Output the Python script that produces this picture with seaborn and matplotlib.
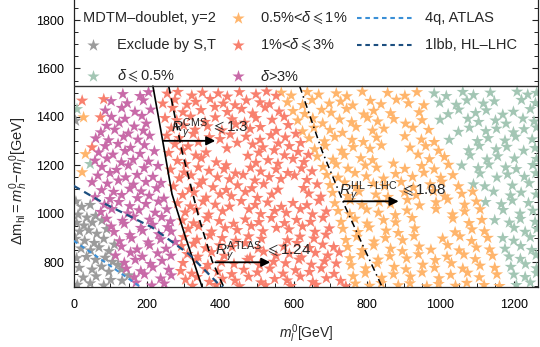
import matplotlib
matplotlib.use("Agg")
import numpy as np
import pandas as pd
import seaborn as sns
import matplotlib.pyplot as plt
from matplotlib.ticker import MultipleLocator

# ---------------- data ----------------
cat_names = ["Exclude by S,T", r"$\delta{\leqslant}$0.5%", r"0.5%<$\delta{\leqslant}$1%",
             r"1%<$\delta{\leqslant}$3%", r"$\delta$>3%"]
cat_colors = ["#9b9b9b", "#a3c6b4", "#ffb56c", "#f8806e", "#c86aa8"]

gray_pts = [(5,1384),(6,1050),(22,1028),(45,1036),(12,996),(36,984),(60,991),(8,962),(28,951),(51,963),
            (77,972),(16,926),(41,931),(63,917),(90,936),(5,896),(30,888),(56,879),(82,896),(20,856),
            (46,848),(69,861),(96,845),(111,872),(8,816),(35,821),(60,809),(86,818),(106,801),(121,789),
            (15,776),(50,769),(76,781),(96,760),(130,770),(26,736),(61,741),(101,726),(132,723),(150,745),
            (10,706),(45,712),(82,703)]

green_pts = [(9,1432),(45,1205),
    (983,1497),(1016,1486),(1061,1503),(1090,1490),(1136,1500),(1209,1504),(1238,1492),(1262,1499),
    (998,1459),(1043,1450),(1072,1468),(1117,1455),(1147,1464),(1221,1470),(1259,1457),
    (1021,1411),(1050,1430),(1096,1416),(1125,1427),(1170,1409),(1199,1421),(1245,1432),
    (999,1388),(1075,1392),(1104,1379),(1150,1385),(1179,1372),(1225,1393),(1255,1381),
    (1049,1338),(1079,1355),(1124,1341),(1153,1351),(1199,1336),(1228,1349),(1262,1356),
    (1024,1305),(1101,1300),(1130,1312),(1176,1302),(1205,1318),(1250,1307),
    (1077,1262),(1106,1280),(1152,1266),(1181,1276),(1227,1260),(1258,1271),
    (1081,1241),(1127,1224),(1156,1237),(1202,1228),(1262,1226),
    (1058,1199),(1103,1188),(1132,1203),(1178,1191),(1207,1184),(1252,1201),
    (1108,1166),(1154,1149),(1183,1162),(1229,1152),(1260,1167),
    (1090,1121),(1121,1113),(1196,1116),(1242,1126),
    (1145,1091),(1191,1075),(1220,1087),(1261,1079),
    (1123,1048),(1166,1039),(1196,1054),(1240,1044),
    (1171,1015),(1217,1000),(1252,1012),
    (1148,973),(1188,963),(1218,978),(1258,966),
    (1201,941),(1231,925),(1263,937),
    (1170,899),(1200,888),(1245,903),
    (1176,855),(1219,866),(1249,850),
    (1187,823),(1218,813),(1261,829),
    (1192,780),(1232,791),(1262,774),
    (1200,748),(1231,738),(1262,754),
    (1207,705),(1245,715)]

orange_pts = [(27,1398),(32,1246),(23,1171),
    (566,1500),(593,1488),(637,1503),(668,1492),(716,1497),(745,1485),(787,1504),(856,1499),(903,1487),(936,1502),
    (583,1460),(624,1449),(650,1470),(697,1455),(728,1463),(761,1447),(809,1466),(838,1452),(880,1471),(913,1456),(955,1448),
    (598,1424),(630,1412),(676,1429),(702,1417),(744,1433),(791,1410),(818,1425),(864,1415),(942,1419),
    (611,1385),(652,1394),(679,1373),(725,1389),(758,1378),(801,1396),(829,1381),(873,1391),(905,1372),(950,1386),
    (624,1340),(655,1355),(699,1346),(733,1334),(770,1358),(815,1343),(846,1351),(925,1355),(968,1346),
    (642,1311),(684,1299),(712,1317),(759,1305),(790,1296),(826,1314),(903,1320),(948,1306),(983,1296),
    (657,1266),(686,1280),(731,1260),(762,1275),(808,1268),(839,1282),(917,1273),(960,1279),(995,1260),
    (664,1236),(707,1223),(738,1242),(783,1229),(815,1221),(939,1244),(970,1225),(1011,1234),
    (680,1193),(716,1204),(748,1186),(795,1199),(826,1190),(872,1207),(903,1185),(949,1197),(983,1183),(1022,1202),
    (690,1160),(721,1149),(767,1168),(798,1154),(845,1145),(878,1164),(924,1152),(955,1169),(1001,1148),(1034,1159),
    (699,1118),(739,1129),(770,1110),(817,1124),(848,1114),(893,1131),(926,1108),(972,1121),(1004,1132),(1049,1113),
    (706,1086),(747,1073),(778,1091),(824,1079),(857,1069),(902,1088),(934,1076),(981,1093),(1012,1071),(1058,1082),(1088,1091),
    (712,1043),(754,1056),(786,1036),(833,1049),(864,1040),(910,1057),(943,1034),(988,1047),(1020,1058),(1066,1037),(1098,1050),
    (721,1011),(753,998),(799,1017),(831,1004),(877,994),(909,1013),(988,1019),(1033,997),(1066,1009),(1108,1018),
    (729,966),(767,979),(800,959),(845,973),(878,964),(923,982),(1034,980),(1078,961),(1113,974),
    (734,937),(775,924),(806,943),(852,930),(885,920),(930,939),(1040,923),(1086,935),(1120,927),
    (742,891),(772,904),(819,885),(850,899),(897,890),(928,907),(1006,897),(1053,906),(1085,887),(1129,900),
    (747,862),(787,849),(818,868),(864,855),(896,845),(942,864),(974,851),(1020,870),(1051,848),(1098,860),(1134,852),
    (753,816),(785,829),(830,810),(862,824),(908,815),(940,832),(986,808),(1018,822),(1064,831),(1095,812),(1142,826),
    (756,787),(796,774),(828,793),(874,780),(906,770),(952,789),(984,776),(1030,795),(1061,773),(1108,785),(1148,776),
    (762,741),(795,754),(840,735),(872,749),(918,740),(950,757),(996,733),(1028,747),(1074,756),(1106,737),(1154,749),
    (768,711),(807,702),(839,713),(885,704),(917,712),(963,700),(995,709),(1041,702),(1072,714),(1119,705),(1161,701)]

red_pts = [(23,1467),(82,1473),(73,1398),(50,1274),
    (255,1496),(284,1503),(322,1488),(351,1500),(394,1497),(419,1484),(452,1502),(497,1493),(526,1505),(552,1487),
    (243,1455),(276,1471),(309,1450),(333,1462),(372,1474),(408,1455),(440,1448),(471,1468),(508,1460),(534,1452),
    (270,1437),(298,1419),(347,1428),(385,1441),(419,1420),(458,1433),(488,1414),(522,1438),(560,1422),
    (249,1395),(281,1386),(319,1401),(358,1379),(386,1398),(432,1390),(466,1376),(497,1395),(541,1388),(574,1400),
    (266,1352),(300,1365),(331,1347),(365,1361),(404,1344),(442,1369),(481,1350),(509,1358),(552,1342),(585,1366),
    (254,1322),(288,1312),(326,1330),(370,1316),(399,1308),(427,1327),(470,1318),(508,1305),(538,1324),(577,1315),(606,1330),
    (276,1287),(312,1278),(340,1296),(418,1270),(446,1293),(488,1286),(516,1274),(558,1290),(588,1279),(619,1292),
    (259,1251),(297,1262),(333,1240),(361,1253),(475,1239),(505,1252),(547,1262),(575,1241),(612,1255),(640,1243),
    (283,1218),(305,1205),(348,1229),(389,1212),(416,1200),(497,1210),(530,1221),(557,1206),(598,1226),(628,1213),
    (264,1182),(301,1170),(340,1191),(369,1177),(410,1184),(441,1166),(482,1190),(510,1174),(552,1183),(584,1168),(621,1187),(650,1175),
    (288,1146),(320,1158),(352,1137),(392,1150),(425,1142),(462,1160),(494,1137),(533,1151),(565,1143),(602,1158),(636,1139),
    (272,1112),(316,1100),(343,1121),(380,1109),(416,1098),(447,1117),(486,1105),(518,1122),(557,1099),(627,1106),(664,1121),
    (297,1077),(328,1088),(361,1066),(399,1080),(430,1072),(468,1090),(501,1065),(540,1079),(641,1083),(674,1070),
    (283,1043),(318,1030),(353,1050),(386,1037),(425,1029),(457,1052),(495,1036),(529,1046),(566,1028),(598,1044),(636,1035),(668,1053),
    (304,1005),(334,1017),(368,996),(406,1010),(478,1018),(510,998),(548,1011),(580,1003),(618,1019),(651,997),(689,1009),
    (296,972),(327,960),(363,981),(397,969),(436,958),(468,976),(505,965),(539,982),(575,961),(608,974),(646,966),(680,983),
    (312,937),(341,948),(376,926),(413,940),(446,932),(484,949),(516,927),(553,941),(587,935),(624,947),(658,925),(697,939),
    (300,903),(336,892),(371,910),(405,899),(442,888),(477,906),(512,896),(583,890),(617,905),(655,897),(688,913),
    (294,866),(327,876),(360,857),(398,869),(432,862),(468,878),(503,855),(573,864),(609,879),(643,858),(679,872),(709,862),
    (310,833),(339,822),(376,841),(411,826),(481,818),(518,843),(552,826),(588,834),(621,819),(659,838),(693,827),(724,840),
    (298,796),(333,807),(366,788),(403,800),(437,792),(473,809),(507,787),(545,801),(578,795),(614,810),(648,789),(684,803),(716,794),
    (292,763),(322,752),(359,771),(393,760),(431,750),(464,768),(501,757),(535,773),(571,752),(605,766),(643,759),(675,774),(710,751),
    (305,727),(336,738),(370,718),(406,731),(440,723),(477,739),(511,716),(548,730),(582,724),(618,740),(652,717),(689,733),(728,722),
    (324,702),(388,705),(452,700),(523,704),(592,701),(661,706),(742,700)]

purple_pts = [(134,1494),(181,1486),(204,1502),
    (102,1465),(146,1456),(190,1468),
    (86,1426),(131,1437),(167,1421),(210,1430),
    (103,1400),(140,1392),(186,1404),
    (90,1363),(124,1376),(165,1360),(198,1372),
    (74,1336),(112,1347),(149,1331),(190,1343),
    (60,1311),(95,1303),(136,1318),(175,1306),(207,1322),
    (86,1279),(121,1288),(155,1272),(193,1283),
    (68,1253),(107,1244),(140,1259),(181,1247),(220,1258),
    (58,1219),(91,1228),(130,1212),(162,1222),(204,1215),
    (77,1193),(117,1181),(149,1199),(192,1188),(230,1197),
    (66,1157),(99,1168),(142,1150),(173,1160),(216,1152),
    (50,1130),(92,1124),(122,1137),(163,1120),(197,1131),(238,1127),
    (76,1097),(109,1090),(153,1103),(184,1092),(226,1105),
    (58,1068),(99,1060),(131,1077),(174,1064),(206,1074),(246,1062),
    (84,1037),(123,1048),(153,1031),(197,1040),(231,1050),
    (74,1007),(104,1019),(148,1001),(178,1014),(222,1004),(254,1018),
    (90,979),(133,970),(163,987),(207,975),(240,986),(264,968),
    (102,947),(138,958),(183,941),(216,954),(256,944),
    (110,924),(153,911),(188,929),(232,915),(266,926),
    (125,886),(158,898),(203,881),(237,894),(277,883),
    (130,864),(173,852),(207,869),(252,855),
    (114,827),(155,839),(187,822),(229,836),(265,826),
    (138,797),(168,809),(209,792),(241,805),
    (144,773),(183,762),(216,778),(259,768),
    (165,737),(193,749),(237,732),(266,745),
    (170,715),(213,703),(247,711)]

# constraint curves (m_l^0, Delta m)
cms_x = [216, 241, 268, 305, 350]
cms_y = [1527, 1315, 1081, 902, 697]
atlas_x = [259, 295, 341, 377, 409]
atlas_y = [1527, 1260, 985, 806, 697]
hllhc_x = [616, 677, 741, 795, 841]
hllhc_y = [1527, 1260, 1026, 847, 697]
lbb_x = [0, 86, 214, 314, 395, 407]
lbb_y = [1115, 1040, 943, 833, 709, 697]
q4_x = [0, 86, 182]
q4_y = [888, 799, 697]
legend_edge_y = 1527

arrow_cms = ((245, 1301), (386, 1301))
arrow_atlas = ((386, 799), (536, 799))
arrow_hl = ((736, 1051), (886, 1051))

# ---------------- style ----------------
sns.set_theme(style="ticks")
plt.rcParams['font.family'] = ['Liberation Sans', 'DejaVu Sans']
plt.rcParams['mathtext.fontset'] = 'custom'
plt.rcParams['mathtext.rm'] = 'Liberation Sans'
plt.rcParams['mathtext.it'] = 'Liberation Sans:italic'
plt.rcParams['mathtext.bf'] = 'Liberation Sans:bold'
plt.rcParams['mathtext.fallback'] = 'stix'

STAR = 88

fig = plt.figure(figsize=(5.4, 3.47), dpi=100)
ax = fig.add_axes([0.1365, 0.173, 0.8598, 0.827])

frames = []
for name, pts in zip(cat_names, [gray_pts, green_pts, orange_pts, red_pts, purple_pts]):
    arr = np.array(pts, dtype=float)
    frames.append(pd.DataFrame({"ml": arr[:, 0], "dm": arr[:, 1], "cls": name}))
df = pd.concat(frames, ignore_index=True)

sns.scatterplot(data=df, x="ml", y="dm", hue="cls", hue_order=cat_names,
                palette=dict(zip(cat_names, cat_colors)), marker="*", s=STAR,
                linewidth=0, legend=False, ax=ax, zorder=2)

# curves
ax.plot(cms_x, cms_y, color="black", lw=1.2, zorder=3)
ax.plot(atlas_x, atlas_y, color="black", lw=1.2, dashes=(4.5, 3), zorder=3)
ax.plot(hllhc_x, hllhc_y, color="black", lw=1.1, dashes=(4.5, 2.5, 1, 2.5), zorder=3)
ax.plot(lbb_x, lbb_y, color="#1d4f80", lw=1.6, dashes=(3.2, 2.2), zorder=3)
ax.plot(q4_x, q4_y, color="#3a8fd6", lw=1.5, dashes=(2.2, 1.8), zorder=3)
ax.axhline(legend_edge_y, color="#333333", lw=1.0, zorder=4)

# arrows + labels
for (s, e) in (arrow_cms, arrow_atlas, arrow_hl):
    ax.annotate("", xy=e, xytext=s,
                arrowprops=dict(arrowstyle="-|>", color="black", lw=1.3,
                                mutation_scale=13, shrinkA=0, shrinkB=0), zorder=5)
ax.text(266, 1336, r"$R_{\gamma}^{\mathrm{CMS}}\;{\leqslant}\mathrm{1.3}$", fontsize=11, zorder=5)
ax.text(384, 828, r"$R_{\gamma}^{\mathrm{ATLAS}}\;{\leqslant}\mathrm{1.24}$", fontsize=11, zorder=5)
ax.text(723, 1076, r"$R_{\gamma}^{\mathrm{HL-LHC}}\;{\leqslant}\mathrm{1.08}$", fontsize=11, zorder=5)

# axes
ax.set_xlim(0, 1266)
ax.set_ylim(697, 1883)
ax.xaxis.set_major_locator(MultipleLocator(200))
ax.xaxis.set_minor_locator(MultipleLocator(50))
ax.yaxis.set_major_locator(MultipleLocator(200))
ax.yaxis.set_minor_locator(MultipleLocator(50))
ax.tick_params(which="both", direction="in", left=True, right=True, bottom=True, top=False,
               colors="#222222", labelcolor="black", labelsize=9)
ax.tick_params(which="major", length=4.5, width=0.8)
ax.tick_params(which="minor", length=2.6, width=0.7)
ax.tick_params(axis="x", pad=9)
ax.tick_params(axis="y", pad=7)
for side in ("left", "right", "bottom"):
    ax.spines[side].set_color("#222222")
    ax.spines[side].set_linewidth(0.9)
ax.spines["top"].set_visible(False)

ax.set_xlabel(r"$m_l^0$[GeV]", fontsize=10, labelpad=8)
ax.set_ylabel(r"$\Delta\mathrm{m}_{\mathrm{hl}}{=}m_h^0{-}m_l^0$[GeV]", fontsize=10.5)
ax.yaxis.set_label_coords(-0.095, 0.37)

# legend box (inside the plot, above the line)
T = ax.transAxes
fs = 10.5
rows = [0.937, 0.843, 0.735]
ax.text(0.020, rows[0], "MDTM–doublet, y=2", transform=T, fontsize=fs, va="center")
ax.scatter([0.042], [rows[1]], marker="*", s=STAR, color=cat_colors[0], linewidth=0, transform=T, clip_on=False)
ax.text(0.093, rows[1], cat_names[0], transform=T, fontsize=fs, va="center")
ax.scatter([0.042], [rows[2]], marker="*", s=STAR, color=cat_colors[1], linewidth=0, transform=T, clip_on=False)
ax.text(0.093, rows[2], cat_names[1], transform=T, fontsize=fs, va="center")
for i, r in enumerate(rows):
    ax.scatter([0.354], [r], marker="*", s=STAR, color=cat_colors[2 + i], linewidth=0, transform=T, clip_on=False)
    ax.text(0.402, r, cat_names[2 + i], transform=T, fontsize=fs, va="center")
ax.plot([0.610, 0.731], [rows[0], rows[0]], color="#3a8fd6", lw=1.5, dashes=(2.2, 1.8), transform=T)
ax.text(0.757, rows[0], "4q, ATLAS", transform=T, fontsize=fs, va="center")
ax.plot([0.610, 0.731], [rows[1], rows[1]], color="#1d4f80", lw=1.5, dashes=(2.2, 1.8), transform=T)
ax.text(0.757, rows[1], "1lbb, HL–LHC", transform=T, fontsize=fs, va="center")

fig.savefig("out.png", dpi=100)
